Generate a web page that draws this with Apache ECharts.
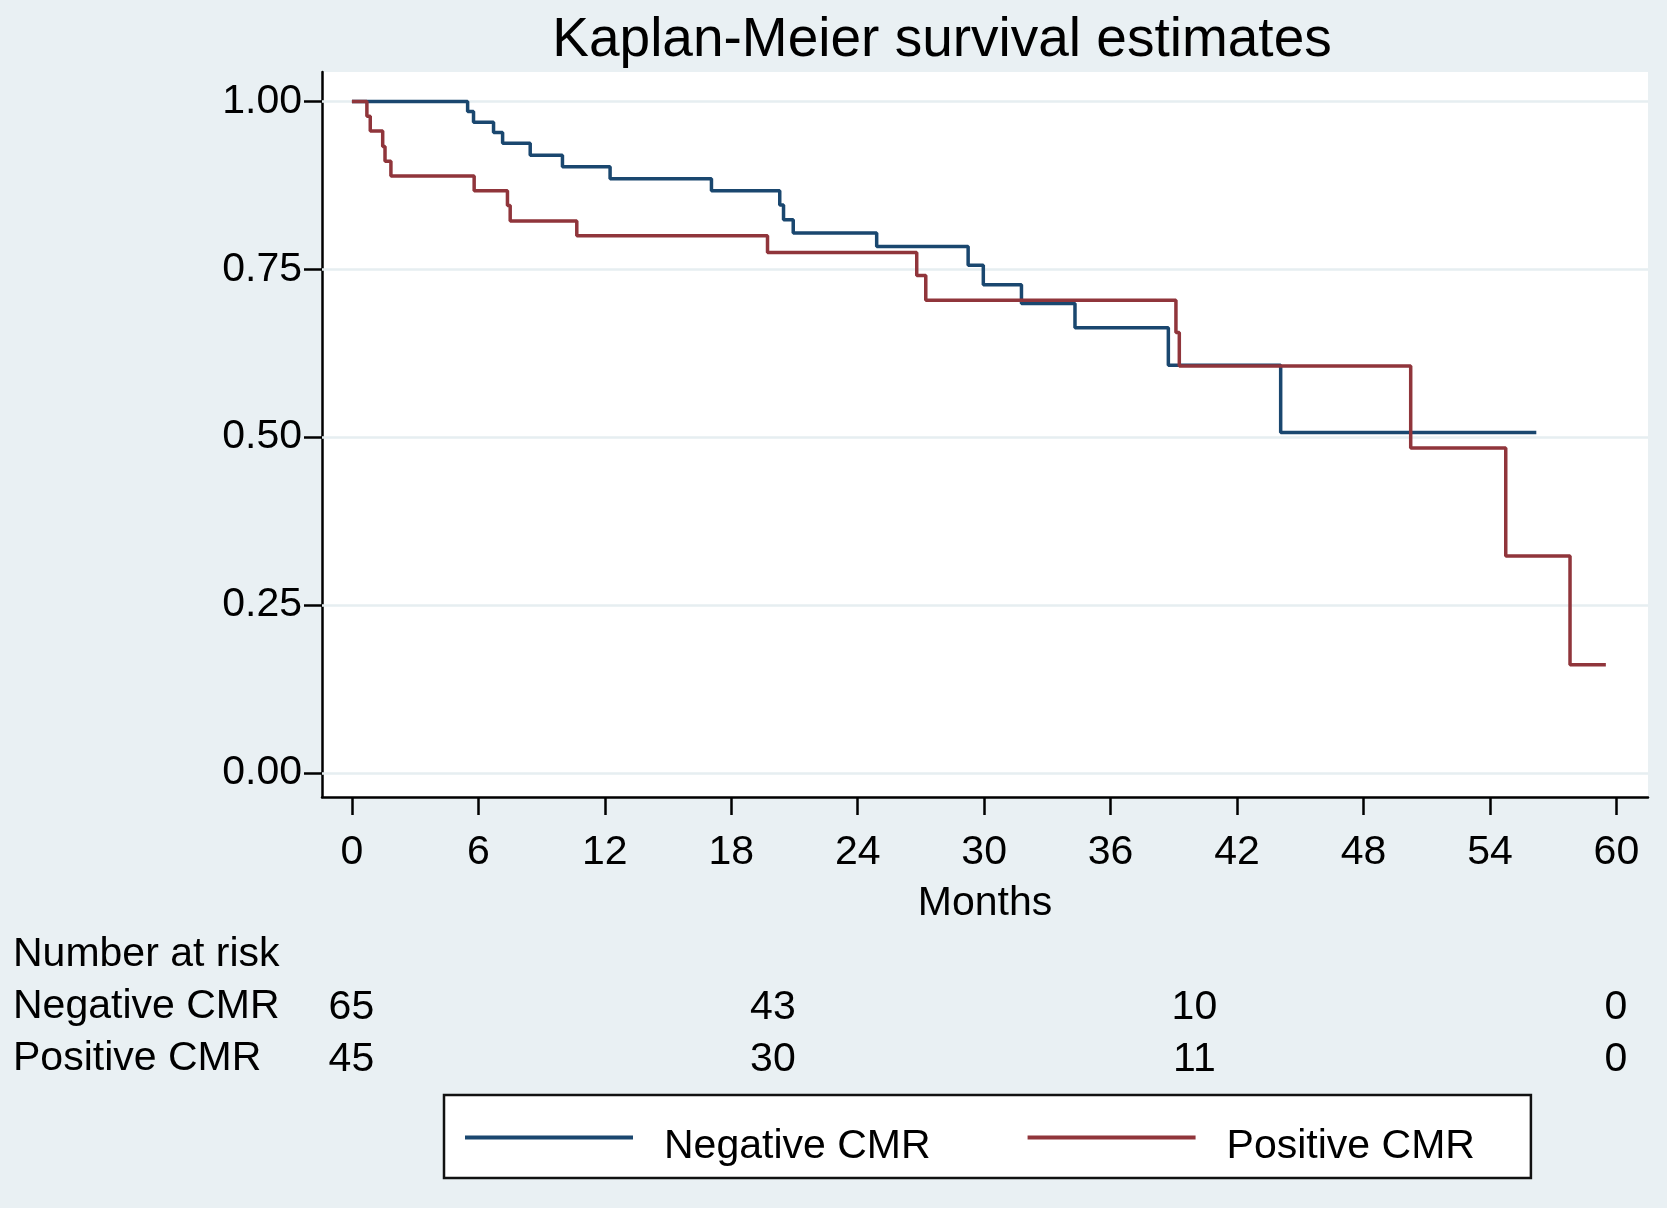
<!DOCTYPE html>
<html>
<head>
<meta charset="utf-8">
<script src="https://cdn.jsdelivr.net/npm/echarts@6/dist/echarts.min.js"></script>
<style>
html,body{margin:0;padding:0;background:#e9f0f3;}
#chart{width:1667px;height:1208px;}
</style>
</head>
<body>
<div id="chart"></div>
<script>
// ---- data ----
const titleText = 'Kaplan-Meier survival estimates';
const xAxisName = 'Months';
const seriesNames = ['Negative CMR', 'Positive CMR'];
const xTicks = [0, 6, 12, 18, 24, 30, 36, 42, 48, 54, 60];
const yTicks = [0, 0.25, 0.5, 0.75, 1];

const negTimes = [0, 5.49, 5.77, 6.72, 7.15, 8.46, 9.99, 12.25, 17.06, 20.30, 20.48, 20.94, 24.9, 29.24, 29.96, 31.77, 34.31, 38.74, 44.07, 56.2];
const negSurv  = [1, 0.985, 0.969, 0.954, 0.938, 0.920, 0.903, 0.885, 0.867, 0.846, 0.824, 0.804, 0.784, 0.756, 0.727, 0.699, 0.663, 0.607, 0.507, 0.507];

const posTimes = [0, 0.71, 0.87, 1.46, 1.57, 1.85, 5.80, 7.38, 7.51, 10.67, 19.72, 26.8, 27.23, 39.1, 39.26, 50.24, 54.75, 57.80, 59.5];
const posSurv  = [1, 0.978, 0.956, 0.933, 0.911, 0.889, 0.867, 0.845, 0.822, 0.800, 0.775, 0.741, 0.704, 0.656, 0.606, 0.484, 0.323, 0.161, 0.161];

const riskTitle = 'Number at risk';
const riskTimes = [0, 20, 40, 60];
const negRisk = [65, 43, 10, 0];
const posRisk = [45, 30, 11, 0];

// ---- styles ----
const FONT = "'Liberation Sans', Arial, Helvetica, sans-serif";
const NAVY = '#1a476f';
const MAROON = '#90353b';
const GRIDC = '#e6eef1';
const X_MIN = -1.42, X_MAX = 61.5, Y_MIN = -0.036, Y_MAX = 1.044;

const zip = (a, b) => a.map((v, i) => [v, b[i]]);

const chart = echarts.init(document.getElementById('chart'), null, {renderer: 'canvas'});
const riskLabel = {
  show: true, position: [0, 0], align: 'center', verticalAlign: 'middle',
  formatter: p => String(p.value[2]),
  fontFamily: FONT, fontSize: 41, color: '#000', opacity: 1
};
const option = {
  backgroundColor: '#e9f0f3',
  animation: false,
  textStyle: {fontFamily: FONT},
  title: {
    text: titleText, left: 937, top: 8, textAlign: 'center',
    textStyle: {fontFamily: FONT, fontSize: 55, fontWeight: 'normal', color: '#000'}
  },
  grid: [
    {left: 322, right: 19, top: 72, bottom: 411, show: true, backgroundColor: '#ffffff', borderWidth: 0, containLabel: false},
    {left: 322, right: 19, top: 1008, height: 52, show: false, containLabel: false}
  ],
  xAxis: [
    {
      type: 'value', gridIndex: 0, min: X_MIN, max: X_MAX,
      name: xAxisName, nameLocation: 'middle', nameGap: 86,
      nameTextStyle: {fontFamily: FONT, fontSize: 41, color: '#000'},
      axisLine: {show: true, onZero: false, lineStyle: {color: '#000', width: 2.5}},
      axisTick: {show: true, customValues: xTicks, length: 18, lineStyle: {color: '#000', width: 2.5}},
      axisLabel: {show: true, customValues: xTicks, margin: 35, fontFamily: FONT, fontSize: 41, color: '#000'},
      splitLine: {show: false}
    },
    {type: 'value', gridIndex: 1, min: X_MIN, max: X_MAX, show: false}
  ],
  yAxis: [
    {
      type: 'value', gridIndex: 0, min: Y_MIN, max: Y_MAX,
      axisLine: {show: true, onZero: false, lineStyle: {color: '#000', width: 2.5}},
      axisTick: {show: true, customValues: yTicks, length: 18, lineStyle: {color: '#000', width: 2.5}},
      axisLabel: {show: true, customValues: yTicks, margin: 20, fontFamily: FONT, fontSize: 41, color: '#000',
                  formatter: v => Number(v).toFixed(2)},
      splitLine: {show: false}
    },
    {type: 'value', gridIndex: 1, min: 0, max: 1, show: false}
  ],
  legend: {
    data: seriesNames,
    left: 444, top: 1095,
    orient: 'horizontal',
    padding: [31, 56, 11, 21],
    itemGap: 97,
    itemWidth: 168, itemHeight: 4,
    icon: 'rect',
    backgroundColor: '#ffffff',
    borderColor: '#111',
    borderWidth: 2.5,
    borderRadius: 0,
    formatter: name => '{t|' + name + '}',
    textStyle: {
      fontFamily: FONT, fontSize: 41, color: '#000',
      rich: {t: {fontFamily: FONT, fontSize: 41, color: '#000', padding: [18, 0, 0, 26]}}
    },
    selectedMode: false
  },
  series: [
    {
      name: '__grid', type: 'line', xAxisIndex: 0, yAxisIndex: 0, data: [], z: 1, silent: true,
      markLine: {
        silent: true, symbol: ['none', 'none'], animation: false, z: 1,
        label: {show: false},
        lineStyle: {color: GRIDC, width: 2.5, type: 'solid'},
        data: yTicks.map(v => ({yAxis: v}))
      }
    },
    {
      name: seriesNames[0], type: 'line', step: 'end', xAxisIndex: 0, yAxisIndex: 0,
      data: zip(negTimes, negSurv), showSymbol: false, symbol: 'none', z: 3,
      color: NAVY, itemStyle: {color: NAVY},
      lineStyle: {color: NAVY, width: 3.5}
    },
    {
      name: seriesNames[1], type: 'line', step: 'end', xAxisIndex: 0, yAxisIndex: 0,
      data: zip(posTimes, posSurv), showSymbol: false, symbol: 'none', z: 4,
      color: MAROON, itemStyle: {color: MAROON},
      lineStyle: {color: MAROON, width: 3.5}
    },
    {
      name: 'riskNeg', type: 'scatter', xAxisIndex: 1, yAxisIndex: 1,
      data: riskTimes.map((t, i) => [t, 1, negRisk[i]]),
      symbolSize: 1, itemStyle: {color: 'rgba(0,0,0,0)'}, silent: true,
      label: riskLabel
    },
    {
      name: 'riskPos', type: 'scatter', xAxisIndex: 1, yAxisIndex: 1,
      data: riskTimes.map((t, i) => [t, 0, posRisk[i]]),
      symbolSize: 1, itemStyle: {color: 'rgba(0,0,0,0)'}, silent: true,
      label: riskLabel
    }
  ],
  graphic: [
    {type: 'text', left: 13, top: 956 - 22, style: {text: riskTitle, fontFamily: FONT, fontSize: 41, fill: '#000'}},
    {type: 'text', left: 13, top: 1008 - 22, style: {text: seriesNames[0], fontFamily: FONT, fontSize: 41, fill: '#000'}},
    {type: 'text', left: 13, top: 1060 - 22, style: {text: seriesNames[1], fontFamily: FONT, fontSize: 41, fill: '#000'}}
  ]
};
chart.setOption(option);
</script>
</body>
</html>
